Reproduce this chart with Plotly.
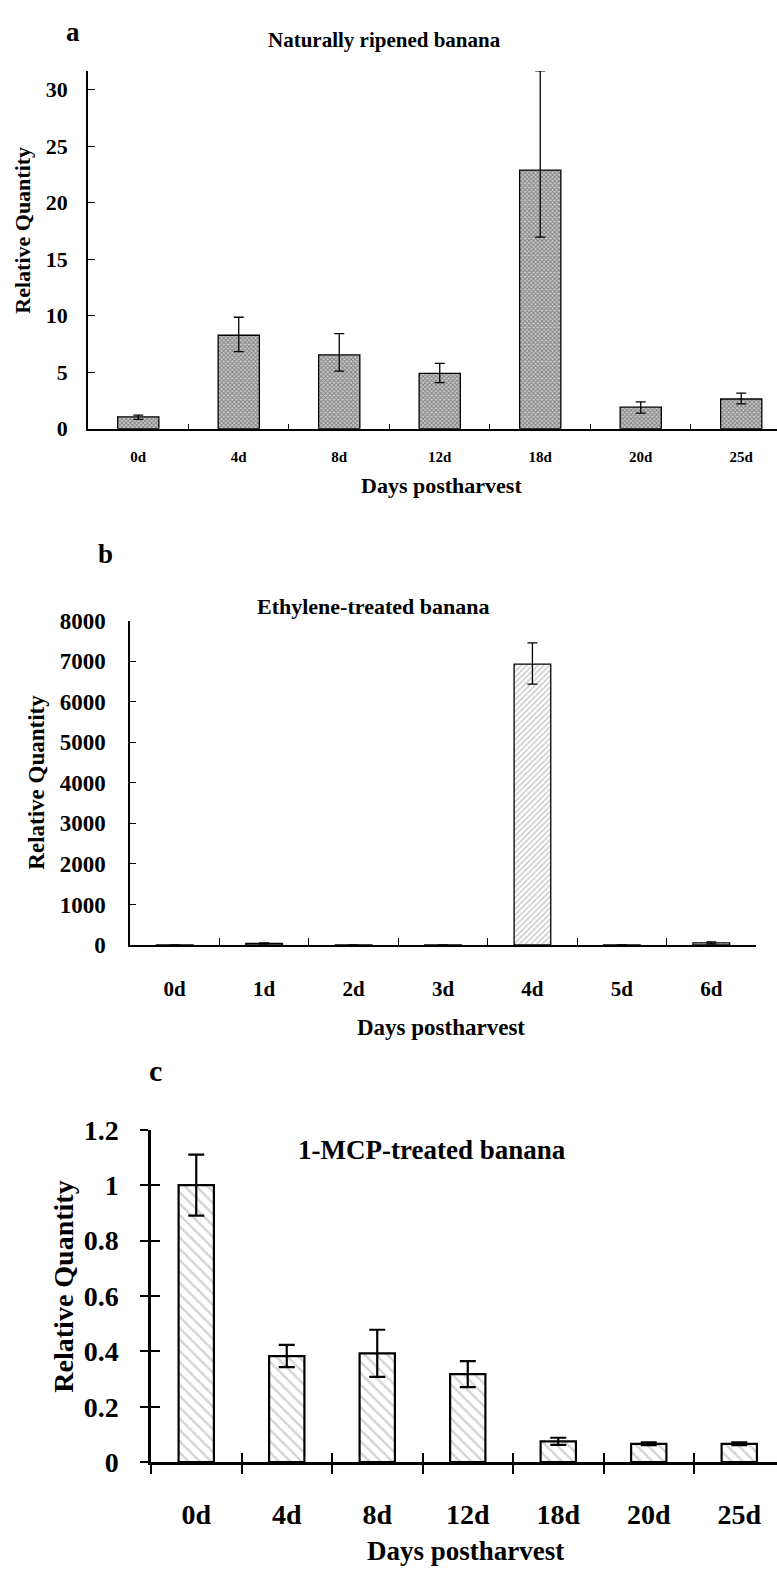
import plotly.graph_objects as go

W, H = 777, 1585

# ---------------- data ----------------
days_a = ["0d", "4d", "8d", "12d", "18d", "20d", "25d"]
vals_a = [1.05, 8.27, 6.54, 4.89, 22.88, 1.91, 2.63]
err_a_plus = [0.16, 1.59, 1.88, 0.90, 8.77, 0.46, 0.52]
err_a_minus = [0.22, 1.44, 1.45, 0.81, 5.93, 0.52, 0.43]

days_b = ["0d", "1d", "2d", "3d", "4d", "5d", "6d"]
vals_b = [1, 40, 2, 3, 6933, 1, 50]
err_b_plus = [0, 10, 0, 0, 526, 0, 25]
err_b_minus = [0, 10, 0, 0, 493, 0, 25]

days_c = ["0d", "4d", "8d", "12d", "18d", "20d", "25d"]
vals_c = [1.0, 0.383, 0.393, 0.318, 0.075, 0.066, 0.066]
err_c = [0.11, 0.04, 0.085, 0.047, 0.013, 0.005, 0.005]

ticks_a = [0, 5, 10, 15, 20, 25, 30]
ticks_b = [0, 1000, 2000, 3000, 4000, 5000, 6000, 7000, 8000]
ticks_c = [0, 0.2, 0.4, 0.6, 0.8, 1.0, 1.2]
ticktext_c = ["0", "0.2", "0.4", "0.6", "0.8", "1", "1.2"]

titles = ["Naturally ripened banana", "Ethylene-treated banana", "1-MCP-treated banana"]
ytitle = "Relative Quantity"
xtitle = "Days postharvest"

FONT = "Liberation Serif"


def px(x):
    return x / W


def py(y):
    return 1 - y / H


def f(size):
    return dict(family=FONT, size=size, color="black", weight="bold")


fig = go.Figure()

# panel a
fig.add_trace(go.Bar(
    x=days_a, y=vals_a, width=0.41, xaxis="x", yaxis="y",
    marker=dict(color="#a0a0a0", line=dict(color="black", width=1.3),
                pattern=dict(shape="x", size=3, solidity=0.5, fgcolor="#3a3a3a", bgcolor="#c8c8c8")),
    error_y=dict(type="data", symmetric=False, array=err_a_plus, arrayminus=err_a_minus,
                 color="black", thickness=1.3, width=5),
    showlegend=False,
))
# panel b
fig.add_trace(go.Bar(
    x=days_b, y=vals_b, width=0.41, xaxis="x2", yaxis="y2",
    marker=dict(color="white", line=dict(color="black", width=1.3),
                pattern=dict(shape="/", size=4, solidity=0.35, fgcolor="#8a8a8a", bgcolor="white")),
    error_y=dict(type="data", symmetric=False, array=err_b_plus, arrayminus=err_b_minus,
                 color="black", thickness=1.3, width=5),
    showlegend=False,
))
# panel c
fig.add_trace(go.Bar(
    x=days_c, y=vals_c, width=0.39, xaxis="x3", yaxis="y3",
    marker=dict(color="white", line=dict(color="black", width=2.2),
                pattern=dict(shape="\\", size=8, solidity=0.3, fgcolor="#a8a8a8", bgcolor="white")),
    error_y=dict(type="data", array=err_c, color="black", thickness=2.2, width=8),
    showlegend=False,
))
# empty trace so the overlay tick axes of panel c are drawn
fig.add_trace(go.Scatter(x=[], y=[], xaxis="x4", yaxis="y4", showlegend=False, hoverinfo="skip"))

common_x = dict(type="category", showgrid=False, zeroline=False, showline=True,
                linecolor="black", tickcolor="black", tickson="boundaries")
common_y = dict(showgrid=False, zeroline=False, showline=True, linecolor="black", tickcolor="black")

fig.update_layout(
    width=W, height=H,
    margin=dict(l=0, r=0, t=0, b=0),
    paper_bgcolor="white", plot_bgcolor="white",
    font=dict(family=FONT, color="black"),
    bargap=0.59,
    xaxis=dict(**common_x, domain=[px(88), 1.0], range=[-0.5, 6.356], anchor="y",
               linewidth=1.5, ticks="inside", ticklen=5, tickwidth=1.3,
               tickfont=f(15), ticklabelstandoff=14),
    yaxis=dict(**common_y, domain=[py(422), py(57)], range=[0, 31.65], anchor="x",
               tickvals=ticks_a, linewidth=1.5, ticks="inside", ticklen=7,
               tickwidth=1.3, tickfont=f(22), ticklabelstandoff=14),
    xaxis2=dict(**common_x, domain=[px(130), px(756)], range=[-0.5, 6.5], anchor="y2",
                linewidth=1.5, ticks="inside", ticklen=7, tickwidth=1.3,
                tickfont=f(21), ticklabelstandoff=24),
    yaxis2=dict(**common_y, domain=[py(948.5), py(618)], range=[0, 8000], anchor="x2",
                tickvals=ticks_b, linewidth=1.5,
                ticks="inside", ticklen=6, tickwidth=1.3, tickfont=f(23), ticklabelstandoff=18),
    xaxis3=dict(**common_x, domain=[px(151), 1.0], range=[-0.5, 6.417], anchor="y3",
                linewidth=2.5, ticks="outside", ticklen=9, tickwidth=2.2,
                tickfont=f(28), ticklabelstandoff=26),
    yaxis3=dict(**common_y, domain=[py(1476), py(1137)], range=[0, 1.2], anchor="x3",
                tickvals=ticks_c, ticktext=ticktext_c,
                linewidth=2.5, ticks="outside", ticklen=8, tickwidth=2.2,
                tickfont=f(28), ticklabelstandoff=16),
    # overlay axes to give panel c ticks that cross the axis lines
    xaxis4=dict(overlaying="x3", anchor="y3", domain=[px(151), 1.0], range=[-0.5, 6.417],
                tickvals=[-0.5, 0.5, 1.5, 2.5, 3.5, 4.5, 5.5], showticklabels=False, showgrid=False,
                zeroline=False, showline=False, ticks="inside", ticklen=9, tickwidth=2.2, tickcolor="black"),
    yaxis4=dict(overlaying="y3", anchor="x3", side="left", range=[0, 1.2],
                tickvals=ticks_c, showticklabels=False, showgrid=False,
                zeroline=False, showline=False, ticks="inside", ticklen=9, tickwidth=2.2, tickcolor="black"),
)

ann = []


def text(x, y, s, size, angle=0):
    ann.append(dict(x=px(x), y=py(y), xref="paper", yref="paper", text=s, showarrow=False,
                    font=f(size), textangle=angle, xanchor="center", yanchor="middle"))


# panel letters
text(73, 17, "a", 27)
text(105, 550, "b", 27)
text(155, 1077, "c", 30)
# titles
text(384, 25, titles[0], 21)
text(373, 603, titles[1], 22)
text(432, 1158, titles[2], 27)
# y titles
text(23, 220, ytitle, 22, -90)
text(37, 783, ytitle, 23, -90)
text(64, 1297, ytitle, 28, -90)
# x titles
text(441, 480, xtitle, 22)
text(441, 1033, xtitle, 23)
text(465, 1567, xtitle, 27)

fig.update_layout(annotations=ann)

fig.write_html(
    "out.html",
    config={"displayModeBar": False},
    post_script="document.body.style.margin='0';document.documentElement.style.overflow='hidden';document.body.style.overflow='hidden';",
)
